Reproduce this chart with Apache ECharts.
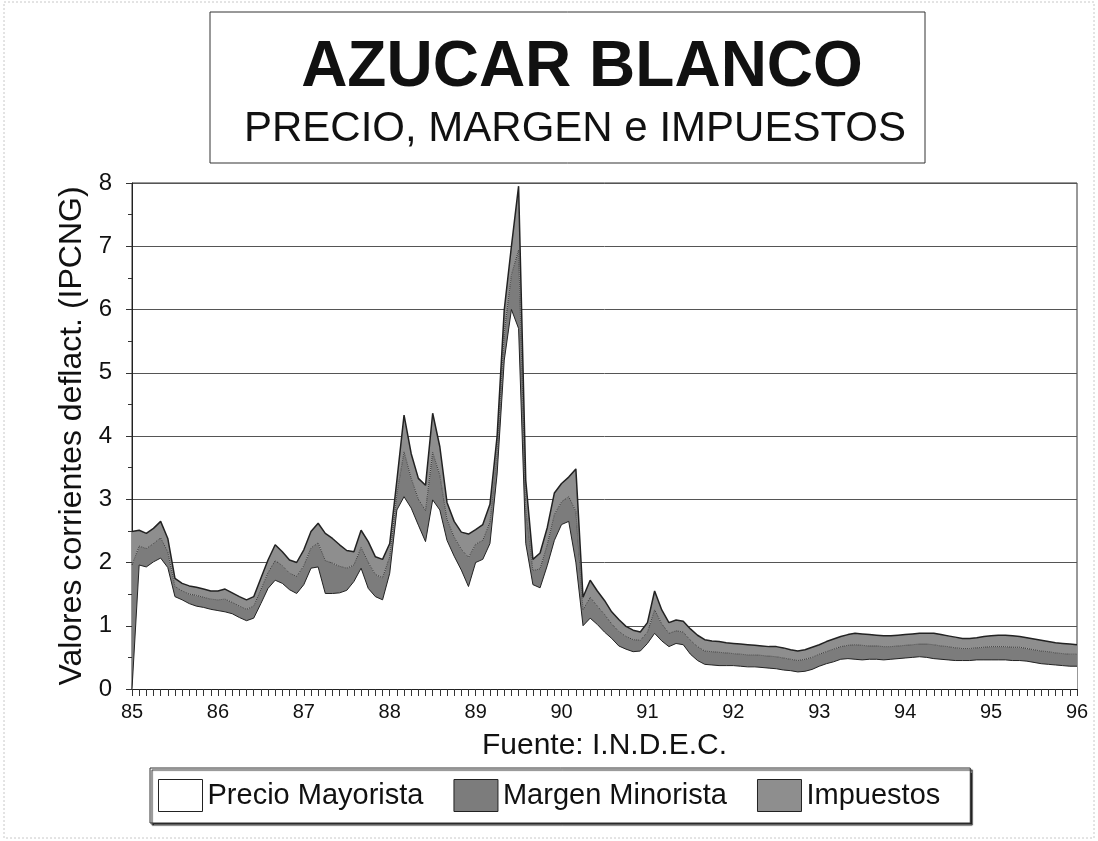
<!DOCTYPE html>
<html>
<head>
<meta charset="utf-8">
<title>Azucar Blanco</title>
<script src="https://cdn.jsdelivr.net/npm/echarts@6/dist/echarts.min.js"></script>
<style>
  html, body { margin: 0; padding: 0; background: #fff; }
  #chart { width: 1098px; height: 841px; }
</style>
</head>
<body>
<div id="chart"></div>
<script>
// años del eje (una etiqueta por año, datos mensuales)
const years = ['85', '86', '87', '88', '89', '90', '91', '92', '93', '94', '95', '96'];

// Precio Mayorista (base del apilado)
const precio = [
  0, 1.96, 1.93, 2.01, 2.07, 1.92, 1.46, 1.41, 1.35, 1.31, 1.29, 1.26,
  1.24, 1.22, 1.19, 1.13, 1.08, 1.12, 1.35, 1.59, 1.72, 1.67, 1.57, 1.51,
  1.65, 1.91, 1.93, 1.51, 1.51, 1.52, 1.56, 1.70, 1.91, 1.59, 1.46, 1.41,
  1.83, 2.83, 3.04, 2.86, 2.59, 2.33, 2.99, 2.83, 2.35, 2.10, 1.88, 1.62,
  2.00, 2.05, 2.30, 3.40, 5.20, 6.00, 5.70, 2.30, 1.65, 1.60, 1.95, 2.35,
  2.60, 2.65, 2.00, 1.00, 1.12, 1.02, 0.90, 0.80, 0.68, 0.63, 0.59, 0.60,
  0.72, 0.88, 0.76, 0.67, 0.72, 0.70, 0.55, 0.45, 0.39, 0.38, 0.37, 0.37,
  0.37, 0.36, 0.35, 0.35, 0.34, 0.33, 0.32, 0.30, 0.29, 0.27, 0.28, 0.31,
  0.36, 0.40, 0.43, 0.47, 0.48, 0.47, 0.46, 0.47, 0.47, 0.46, 0.47, 0.48,
  0.49, 0.50, 0.51, 0.50, 0.48, 0.47, 0.46, 0.45, 0.45, 0.45, 0.46, 0.46,
  0.46, 0.46, 0.46, 0.45, 0.45, 0.44, 0.42, 0.40, 0.39, 0.38, 0.37, 0.36,
  0.36
];

// Margen Minorista
const margen = [
  1.96, 0.30, 0.29, 0.29, 0.32, 0.25, 0.16, 0.14, 0.15, 0.17, 0.16, 0.16,
  0.17, 0.20, 0.18, 0.18, 0.18, 0.19, 0.22, 0.25, 0.31, 0.28, 0.26, 0.27,
  0.30, 0.32, 0.38, 0.52, 0.48, 0.42, 0.35, 0.26, 0.33, 0.41, 0.35, 0.35,
  0.26, 0.26, 0.71, 0.47, 0.41, 0.49, 0.75, 0.55, 0.33, 0.30, 0.33, 0.46,
  0.29, 0.30, 0.34, 0.33, 0.44, 0.55, 1.24, 0.55, 0.22, 0.30, 0.33, 0.41,
  0.36, 0.39, 0.81, 0.25, 0.33, 0.29, 0.28, 0.23, 0.23, 0.20, 0.19, 0.17,
  0.18, 0.37, 0.27, 0.21, 0.20, 0.20, 0.22, 0.22, 0.21, 0.21, 0.21, 0.20,
  0.19, 0.19, 0.19, 0.19, 0.19, 0.19, 0.19, 0.19, 0.18, 0.18, 0.19, 0.19,
  0.19, 0.19, 0.20, 0.20, 0.21, 0.23, 0.23, 0.21, 0.21, 0.21, 0.20, 0.20,
  0.20, 0.20, 0.20, 0.21, 0.22, 0.21, 0.21, 0.20, 0.19, 0.19, 0.19, 0.20,
  0.21, 0.21, 0.21, 0.21, 0.21, 0.20, 0.20, 0.20, 0.20, 0.19, 0.19, 0.19,
  0.19
];

// Impuestos
const impuestos = [
  0.53, 0.25, 0.24, 0.24, 0.26, 0.21, 0.13, 0.12, 0.13, 0.13, 0.13, 0.13,
  0.14, 0.16, 0.15, 0.15, 0.15, 0.15, 0.18, 0.20, 0.25, 0.22, 0.21, 0.22,
  0.25, 0.26, 0.31, 0.43, 0.39, 0.34, 0.28, 0.21, 0.27, 0.33, 0.28, 0.29,
  0.21, 0.21, 0.58, 0.39, 0.33, 0.40, 0.62, 0.45, 0.27, 0.25, 0.27, 0.37,
  0.23, 0.25, 0.28, 0.27, 0.36, 0.45, 1.01, 0.45, 0.18, 0.25, 0.27, 0.34,
  0.29, 0.31, 0.67, 0.20, 0.27, 0.24, 0.22, 0.19, 0.19, 0.16, 0.15, 0.13,
  0.15, 0.30, 0.22, 0.17, 0.17, 0.17, 0.18, 0.18, 0.18, 0.17, 0.17, 0.16,
  0.16, 0.16, 0.16, 0.15, 0.15, 0.15, 0.16, 0.16, 0.15, 0.15, 0.15, 0.16,
  0.15, 0.16, 0.16, 0.16, 0.17, 0.18, 0.18, 0.18, 0.17, 0.17, 0.17, 0.17,
  0.17, 0.17, 0.17, 0.17, 0.18, 0.18, 0.17, 0.17, 0.16, 0.16, 0.16, 0.17,
  0.17, 0.18, 0.18, 0.18, 0.17, 0.17, 0.17, 0.17, 0.16, 0.16, 0.16, 0.16,
  0.15
];

// categorias mensuales: "85-01" ... "95-12", "96-01"
const categories = [];
years.forEach(function (y, i) {
  const n = i === years.length - 1 ? 1 : 12;
  for (let m = 1; m <= n; m++) {
    categories.push(y + '-' + (m < 10 ? '0' + m : m));
  }
});

const FONT = 'Liberation Sans, Arial, sans-serif';
const chart = echarts.init(document.getElementById('chart'));

chart.setOption({
  backgroundColor: '#fff',
  animation: false,
  graphic: [
    { type: 'rect', shape: { x: 4, y: 2, width: 1090, height: 836 },
      style: { fill: 'none', stroke: '#c8c8c8', lineWidth: 1, lineDash: [2, 2] }, silent: true },
    { type: 'rect', shape: { x: 210, y: 12, width: 715, height: 151 },
      style: { fill: '#fff', stroke: '#333', lineWidth: 1 }, silent: true, z: -1 },
    { type: 'text', x: 582, y: 36,
      style: { text: 'AZUCAR BLANCO', fill: '#111', font: 'bold 64px ' + FONT, align: 'center' } },
    { type: 'text', x: 575, y: 108,
      style: { text: 'PRECIO, MARGEN e IMPUESTOS', fill: '#111', font: '42px ' + FONT, align: 'center' } }
  ],
  legend: {
    left: 150,
    top: 768,
    padding: [11, 30, 11, 8],
    itemGap: 30,
    itemWidth: 44,
    itemHeight: 32,
    icon: 'rect',
    backgroundColor: '#fff',
    borderColor: '#333',
    borderWidth: 1,
    shadowColor: '#222',
    shadowBlur: 1,
    shadowOffsetX: 2,
    shadowOffsetY: 2,
    itemStyle: { borderColor: '#222', borderWidth: 1 },
    textStyle: { fontSize: 29, color: '#111', fontFamily: FONT },
    data: ['Precio Mayorista', 'Margen Minorista', 'Impuestos']
  },
  grid: {
    left: 132,
    right: 21,
    top: 183,
    bottom: 152,
    show: true,
    backgroundColor: '#fff',
    borderColor: '#333',
    borderWidth: 1
  },
  xAxis: {
    type: 'category',
    data: categories,
    boundaryGap: false,
    name: 'Fuente: I.N.D.E.C.',
    nameLocation: 'middle',
    nameGap: 42,
    nameTextStyle: { fontSize: 30, color: '#111', fontFamily: FONT, verticalAlign: 'top' },
    axisLine: { lineStyle: { color: '#222', width: 1 } },
    axisTick: { interval: 0, length: 7, lineStyle: { color: '#333' } },
    axisLabel: {
      interval: function (idx) { return idx % 12 === 0; },
      formatter: function (v) { return v.slice(0, 2); },
      margin: 13,
      fontSize: 20,
      color: '#111',
      fontFamily: FONT
    },
    splitLine: { show: false }
  },
  yAxis: {
    type: 'value',
    min: 0,
    max: 8,
    interval: 1,
    name: 'Valores corrientes deflact. (IPCNG)',
    nameLocation: 'middle',
    nameGap: 42,
    nameTextStyle: { fontSize: 32, color: '#111', fontFamily: FONT },
    axisLine: { show: true, lineStyle: { color: '#222', width: 1 } },
    axisTick: { show: true, length: 6, lineStyle: { color: '#333' } },
    minorTick: { show: true, splitNumber: 2, length: 4, lineStyle: { color: '#333' } },
    axisLabel: { margin: 20, fontSize: 24, color: '#111', fontFamily: FONT },
    splitLine: { show: true, lineStyle: { color: '#555', width: 1 } }
  },
  series: [
    {
      name: 'Precio Mayorista',
      type: 'line',
      stack: 'total',
      data: precio,
      symbol: 'none',
      itemStyle: { color: '#fff' },
      lineStyle: { color: '#222', width: 1 },
      areaStyle: { color: '#fff', opacity: 1 }
    },
    {
      name: 'Margen Minorista',
      type: 'line',
      stack: 'total',
      data: margen,
      symbol: 'none',
      itemStyle: { color: '#7c7c7c' },
      lineStyle: { color: '#333', width: 1, type: 'dotted' },
      areaStyle: { color: '#7c7c7c', opacity: 1 }
    },
    {
      name: 'Impuestos',
      type: 'line',
      stack: 'total',
      data: impuestos,
      symbol: 'none',
      itemStyle: { color: '#8e8e8e' },
      lineStyle: { color: '#222', width: 1.5 },
      areaStyle: { color: '#8e8e8e', opacity: 1 }
    }
  ]
});
</script>
</body>
</html>
